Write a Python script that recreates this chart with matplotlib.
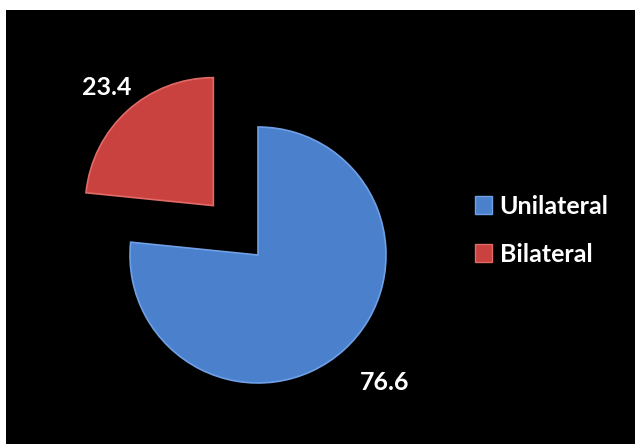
import numpy as np
import matplotlib.pyplot as plt
from matplotlib.patches import Rectangle, Patch
from matplotlib.font_manager import FontProperties

labels = ["Unilateral", "Bilateral"]
values = [76.6, 23.4]
colores = ["#4a80cc", "#c9423f"]
bordes = ["#6fa0e6", "#e06a66"]
dist_etiqueta = [1.38, 1.24]

fuente = FontProperties(family="Lato", weight="bold", size=18)

fig = plt.figure(figsize=(6.35, 4.44), dpi=100, facecolor="white")
# fondo negro (deja franja blanca arriba e izquierda)
fig.patches.append(Rectangle((6 / 635, 0), 1 - 6 / 635, 434 / 444,
                             transform=fig.transFigure, facecolor="black",
                             edgecolor="none", zorder=-10))

ax = fig.add_axes([0, 0, 1, 1])
ax.set_facecolor("none")

wedges, texts, autotexts = ax.pie(values, colors=colores, startangle=90,
                                  counterclock=False, explode=[0, 0.52],
                                  autopct="%.1f", pctdistance=1.36,
                                  radius=1.0,
                                  wedgeprops=dict(linewidth=1.2))
for w, b, t, d in zip(wedges, bordes, autotexts, dist_etiqueta):
    w.set_edgecolor(b)
    ang = np.deg2rad((w.theta1 + w.theta2) / 2)
    t.set_position((w.center[0] + d * np.cos(ang), w.center[1] + d * np.sin(ang)))
    t.set_color("white")
    t.set_fontproperties(fuente)
# pequeno ajuste de la etiqueta azul hacia la derecha
x0, y0 = autotexts[0].get_position()
autotexts[0].set_position((x0 + 0.06, y0 + 0.03))

r_px = 128
cx, cy = 258, 444 - 255
ax.set_xlim(-cx / r_px, (635 - cx) / r_px)
ax.set_ylim(-cy / r_px, (444 - cy) / r_px)
ax.set_aspect("equal")
ax.axis("off")

handles = [Patch(facecolor=c, edgecolor=b) for c, b in zip(colores, bordes)]
leg = fig.legend(handles, labels, loc="center left",
                 bbox_to_anchor=(452 / 635, 1 - 230 / 444), frameon=False,
                 handlelength=0.7, handleheight=0.7, handletextpad=0.3,
                 labelspacing=1.0, prop=fuente)
for t in leg.get_texts():
    t.set_color("white")

plt.savefig("out.png", dpi=100, facecolor="white")
